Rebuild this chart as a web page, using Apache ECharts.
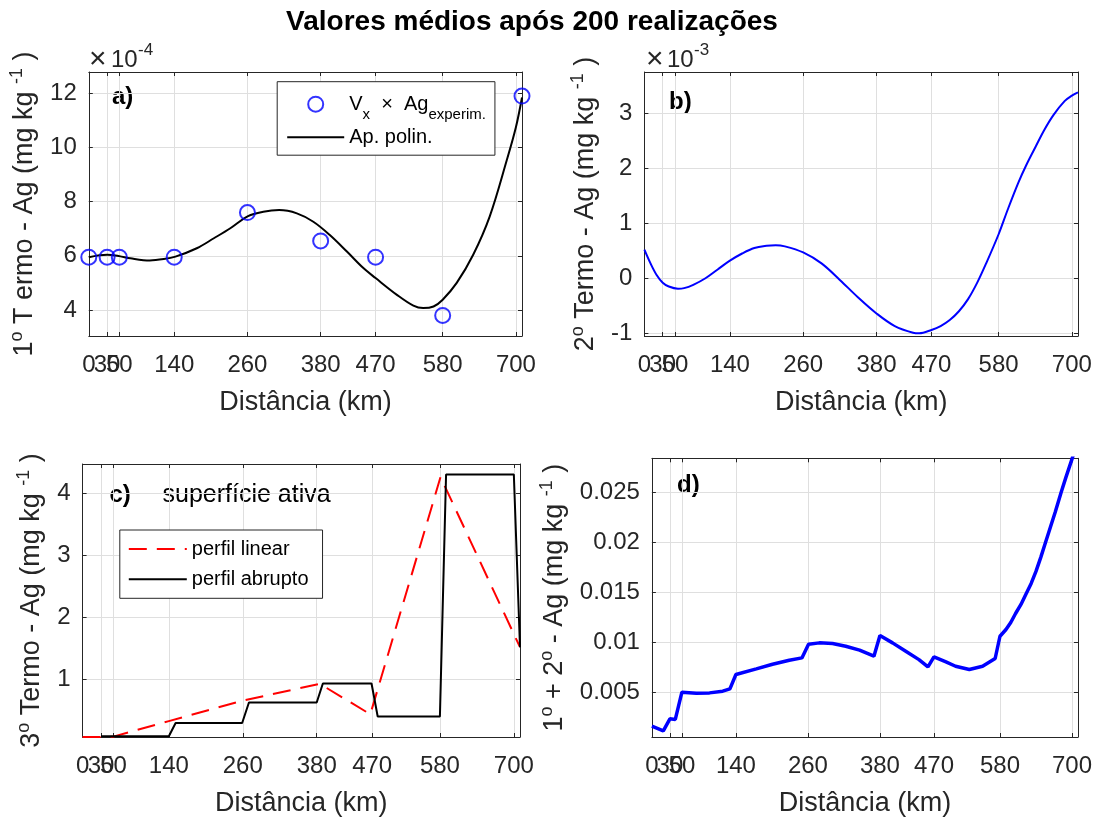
<!DOCTYPE html>
<html><head><meta charset="utf-8">
<script src="https://cdn.jsdelivr.net/npm/echarts@6/dist/echarts.min.js"></script>
<style>html,body{margin:0;padding:0;background:#fff}#c{width:1095px;height:818px}</style>
</head><body><div id="c"></div>
<script>
// ---------- data ----------
const xTicks = [0, 30, 50, 140, 260, 380, 470, 580, 700];
const xTicksCrowded = [30];   // label drawn on its own so it overlaps "0" and "50" as in the original
const xMax = 710;

// a) first term (x 1e-4)
const aObsX = [0, 30, 50, 140, 260, 380, 470, 580, 710];
const aObsY = [5.95, 5.95, 5.95, 5.95, 7.6, 6.55, 5.95, 3.8, 11.9];
const aFitX = [0, 30, 50, 68, 100, 123, 142, 177, 205, 232, 261, 286, 312, 341, 368, 395, 423, 450, 470, 505, 532, 548, 565, 580, 603, 630, 657, 685, 700, 710];
const aFitY = [5.95, 6.04, 5.99, 5.91, 5.83, 5.88, 5.97, 6.28, 6.65, 7.02, 7.47, 7.63, 7.69, 7.57, 7.26, 6.77, 6.16, 5.55, 5.18, 4.56, 4.16, 4.07, 4.13, 4.38, 5.0, 6.04, 7.45, 9.53, 10.75, 11.85];
const aTicksY = [4, 6, 8, 10, 12];

// b) second term (x 1e-3)
const bX = [0, 10, 20, 30, 40, 55, 65, 80, 100, 120, 140, 160, 180, 200, 215, 230, 260, 290, 320, 350, 380, 410, 440, 450, 470, 485, 500, 515, 530, 545, 560, 580, 595, 612, 625, 641, 655, 670, 688, 700, 710];
const bY = [0.52, 0.27, 0.06, -0.08, -0.15, -0.19, -0.18, -0.12, 0.0, 0.16, 0.32, 0.45, 0.55, 0.59, 0.60, 0.58, 0.47, 0.27, -0.03, -0.35, -0.64, -0.87, -0.99, -1.0, -0.94, -0.87, -0.76, -0.60, -0.38, -0.08, 0.28, 0.80, 1.25, 1.73, 2.05, 2.40, 2.70, 2.97, 3.22, 3.32, 3.38];
const bTicksY = [-1, 0, 1, 2, 3];

// c) third term
const cLinX = [0, 30, 50, 140, 260, 385, 467, 581, 710];
const cLinY = [0.074, 0.074, 0.08, 0.33, 0.66, 0.93, 0.44, 4.26, 1.52];
const cAbrX = [30, 140, 151, 259, 270, 380, 390, 469, 479, 580, 590, 700, 710];
const cAbrY = [0.085, 0.085, 0.30, 0.30, 0.63, 0.63, 0.935, 0.935, 0.405, 0.405, 4.30, 4.30, 1.52];
const cTicksY = [1, 2, 3, 4];

// d) first + second
const dX = [0, 19, 30, 39, 50, 74, 96, 118, 130, 140, 174, 201, 229, 250, 261, 279, 301, 323, 346, 370, 380, 401, 423, 445, 460, 470, 490, 506, 529, 551, 572, 580, 590, 598, 606, 615, 623, 632, 640, 648, 656, 664, 672, 682, 690, 700, 710];
const dY = [0.00166, 0.0012, 0.00239, 0.00233, 0.00505, 0.00495, 0.00498, 0.00515, 0.00538, 0.00681, 0.00738, 0.00784, 0.00824, 0.00847, 0.00983, 0.00997, 0.0099, 0.00963, 0.00924, 0.00864, 0.0107, 0.00997, 0.00914, 0.0083, 0.00757, 0.00857, 0.00807, 0.00764, 0.00731, 0.00764, 0.00841, 0.01063, 0.0113, 0.0120, 0.0129, 0.0138, 0.0148, 0.0159, 0.0171, 0.0185, 0.0200, 0.0215, 0.0230, 0.0250, 0.0265, 0.0283, 0.0302];
const dTicksY = [0.005, 0.01, 0.015, 0.02, 0.025];

// ---------- helpers ----------
const FF = '"Liberation Sans", Arial, Helvetica, sans-serif';
const AX = '#262626';
const GRIDC = '#dfdfdf';
const pairs = (xs, ys) => xs.map((x, i) => [x, ys[i]]);

const grids = [
  {left: 88.8, top: 72, width: 433.2, height: 264},
  {left: 644.4, top: 72, width: 433.6, height: 264},
  {left: 82.6, top: 464, width: 437.4, height: 273.7},
  {left: 651.9, top: 458.3, width: 427.9, height: 279.4}
];

function xAxis(g, main) {
  return {
    type: 'value', gridIndex: g, position: main ? 'bottom' : 'top',
    min: 0, max: xMax,
    axisLine: {show: true, onZero: false, lineStyle: {color: AX, width: 1}},
    axisTick: {show: true, inside: true, length: 4, customValues: xTicks, lineStyle: {color: AX}},
    axisLabel: {show: main, customValues: xTicks, showMinLabel: true, hideOverlap: false, margin: 17, fontSize: 24, color: AX, fontFamily: FF},
    splitLine: {show: main, lineStyle: {color: GRIDC, width: 1}},
    name: main ? 'Distância (km)' : '', nameLocation: 'middle', nameGap: 53,
    nameTextStyle: {fontSize: 27, color: AX, fontFamily: FF}
  };
}
function xAxisExtra(g) {
  return {
    type: 'value', gridIndex: g, position: 'bottom', offset: 0,
    min: 0, max: xMax,
    axisLine: {show: false, onZero: false},
    axisTick: {show: true, inside: true, length: 4, customValues: xTicksCrowded, lineStyle: {color: AX}},
    axisLabel: {show: true, customValues: xTicksCrowded, margin: 17, fontSize: 24, color: AX, fontFamily: FF},
    splitLine: {show: false}
  };
}
const rich = {
  m: {fontSize: 27, lineHeight: 30, color: AX, fontFamily: FF, verticalAlign: 'bottom'},
  s: {fontSize: 18, lineHeight: 18, color: AX, fontFamily: FF, verticalAlign: 'top', padding: [0, 0, 20, 0]}
};
function yAxis(g, main, min, max, ticks, name, gap) {
  return {
    type: 'value', gridIndex: g, position: main ? 'left' : 'right',
    min: min, max: max,
    axisLine: {show: true, onZero: false, lineStyle: {color: AX, width: 1}},
    axisTick: {show: true, inside: true, length: 4, customValues: ticks, lineStyle: {color: AX}},
    axisLabel: {show: main, customValues: ticks, margin: 12, fontSize: 24, color: AX, fontFamily: FF},
    splitLine: {show: main, lineStyle: {color: GRIDC, width: 1}},
    name: main ? name : '', nameLocation: 'middle', nameRotate: 90, nameGap: gap,
    nameTextStyle: {rich: rich}
  };
}
const noSym = {opacity: 0};

const option = {
  animation: false,
  backgroundColor: '#fff',
  grid: grids,
  xAxis: [xAxis(0, true), xAxis(1, true), xAxis(2, true), xAxis(3, true),
          xAxis(0, false), xAxis(1, false), xAxis(2, false), xAxis(3, false),
          xAxisExtra(0), xAxisExtra(1), xAxisExtra(2), xAxisExtra(3)],
  yAxis: [
    yAxis(0, true, 3.04, 12.79, aTicksY, '{m|1}{s|o}{m| T ermo - Ag (mg kg }{s|-1}{m| )}', 41),
    yAxis(1, true, -1.05, 3.75, bTicksY, '{m|2}{s|o}{m| Termo - Ag (mg kg }{s|-1}{m| )}', 43),
    yAxis(2, true, 0.074, 4.47, cTicksY, '{m|3}{s|o}{m| Termo - Ag (mg kg }{s|-1}{m| )}', 33),
    yAxis(3, true, 0.00058, 0.02838, dTicksY, '{m|1}{s|o}{m| + 2}{s|o}{m| - Ag (mg kg }{s|-1}{m| )}', 83),
    yAxis(0, false, 3.04, 12.79, aTicksY), yAxis(1, false, -1.05, 3.75, bTicksY),
    yAxis(2, false, 0.074, 4.47, cTicksY), yAxis(3, false, 0.00058, 0.02838, dTicksY)
  ],
  legend: [
    {
      data: [
        {name: 'Vx × Ag experim.', icon: 'circle', itemStyle: {color: 'rgba(0,0,0,0)', borderColor: '#0000ff', borderWidth: 2}},
        {name: 'Ap. polin.', itemStyle: noSym}
      ],
      orient: 'vertical', left: 277.2, top: 81.7,
      itemWidth: 57, itemHeight: 15, itemGap: 4.5,
      padding: [4, 9, 8, 9],
      borderColor: AX, borderWidth: 1, backgroundColor: '#fff',
      selectedMode: false,
      formatter: function (n) {
        return n === 'Ap. polin.' ? '{t|Ap. polin.}' : '{t|V}{s|x}{t|  ×  Ag}{s|experim.}';
      },
      textStyle: {rich: {
        t: {fontSize: 20, lineHeight: 20, color: '#000', fontFamily: FF, verticalAlign: 'middle'},
        s: {fontSize: 15, lineHeight: 15, color: '#000', fontFamily: FF, padding: [22, 0, 0, 0]}
      }}
    },
    {
      data: [{name: 'perfil linear', itemStyle: noSym}, {name: 'perfil abrupto', itemStyle: noSym}],
      orient: 'vertical', left: 119.8, top: 530,
      itemWidth: 58, itemHeight: 14, itemGap: 10.3,
      padding: [9, 14, 9, 8],
      borderColor: AX, borderWidth: 1, backgroundColor: '#fff',
      selectedMode: false,
      textStyle: {fontSize: 20, lineHeight: 20, color: '#000', fontFamily: FF}
    }
  ],
  series: [
    {name: 'Ap. polin.', type: 'line', xAxisIndex: 0, yAxisIndex: 0, data: pairs(aFitX, aFitY),
     smooth: 0.35, showSymbol: false, symbol: 'none', lineStyle: {color: '#000', width: 2}, itemStyle: {color: '#000'}, z: 3},
    {name: 'Vx × Ag experim.', type: 'scatter', xAxisIndex: 0, yAxisIndex: 0, data: pairs(aObsX, aObsY),
     symbol: 'circle', symbolSize: 15, itemStyle: {color: 'rgba(0,0,0,0)', borderColor: '#0000ff', borderWidth: 2}, z: 4},
    {name: 'b', type: 'line', xAxisIndex: 1, yAxisIndex: 1, data: pairs(bX, bY),
     smooth: 0.35, showSymbol: false, symbol: 'none', lineStyle: {color: '#0000ff', width: 2}},
    {name: 'perfil linear', type: 'line', xAxisIndex: 2, yAxisIndex: 2, data: pairs(cLinX, cLinY),
     showSymbol: false, symbol: 'none', lineStyle: {color: '#ff0000', width: 2, type: [18, 10]}, itemStyle: {color: '#ff0000'}},
    {name: 'perfil abrupto', type: 'line', xAxisIndex: 2, yAxisIndex: 2, data: pairs(cAbrX, cAbrY),
     showSymbol: false, symbol: 'none', lineStyle: {color: '#000', width: 2}, itemStyle: {color: '#000'}},
    {name: 'd', type: 'line', xAxisIndex: 3, yAxisIndex: 3, data: pairs(dX, dY),
     showSymbol: false, symbol: 'none', lineStyle: {color: '#0000ff', width: 3.5}}
  ],
  graphic: [
    {type: 'text', x: 532, y: 22, style: {text: 'Valores médios após 200 realizações', fontSize: 28, fontWeight: 'bold', fontFamily: FF, fill: '#000', align: 'center', verticalAlign: 'middle', textAlign: 'center', textVerticalAlign: 'middle'}},
    {type: 'text', x: 89, y: 60, style: {text: '×', fontSize: 30, fontFamily: FF, fill: AX, align: 'left', verticalAlign: 'middle', textAlign: 'left', textVerticalAlign: 'middle'}},
    {type: 'text', x: 111, y: 60, style: {text: '10', fontSize: 24, fontFamily: FF, fill: AX, align: 'left', verticalAlign: 'middle', textAlign: 'left', textVerticalAlign: 'middle'}},
    {type: 'text', x: 138, y: 50, style: {text: '-4', fontSize: 17, fontFamily: FF, fill: AX, align: 'left', verticalAlign: 'middle', textAlign: 'left', textVerticalAlign: 'middle'}},
    {type: 'text', x: 646, y: 60, style: {text: '×', fontSize: 30, fontFamily: FF, fill: AX, align: 'left', verticalAlign: 'middle', textAlign: 'left', textVerticalAlign: 'middle'}},
    {type: 'text', x: 667, y: 60, style: {text: '10', fontSize: 24, fontFamily: FF, fill: AX, align: 'left', verticalAlign: 'middle', textAlign: 'left', textVerticalAlign: 'middle'}},
    {type: 'text', x: 694, y: 50, style: {text: '-3', fontSize: 17, fontFamily: FF, fill: AX, align: 'left', verticalAlign: 'middle', textAlign: 'left', textVerticalAlign: 'middle'}},
    {type: 'text', x: 112, y: 97, style: {text: 'a)', fontSize: 24, fontWeight: 'bold', fontFamily: FF, fill: '#000', align: 'left', verticalAlign: 'middle', textAlign: 'left', textVerticalAlign: 'middle'}},
    {type: 'text', x: 669, y: 102, style: {text: 'b)', fontSize: 24, fontWeight: 'bold', fontFamily: FF, fill: '#000', align: 'left', verticalAlign: 'middle', textAlign: 'left', textVerticalAlign: 'middle'}},
    {type: 'text', x: 109.5, y: 495, style: {text: 'c)', fontSize: 24, fontWeight: 'bold', fontFamily: FF, fill: '#000', align: 'left', verticalAlign: 'middle', textAlign: 'left', textVerticalAlign: 'middle'}},
    {type: 'text', x: 162.5, y: 495, style: {text: 'superfície ativa', fontSize: 25, fontFamily: FF, fill: '#000', align: 'left', verticalAlign: 'middle', textAlign: 'left', textVerticalAlign: 'middle'}},
    {type: 'text', x: 677, y: 485, style: {text: 'd)', fontSize: 24, fontWeight: 'bold', fontFamily: FF, fill: '#000', align: 'left', verticalAlign: 'middle', textAlign: 'left', textVerticalAlign: 'middle'}}
  ]
};
const chart = echarts.init(document.getElementById('c'), null, {renderer: 'canvas'});
chart.setOption(option);
</script>
</body></html>
